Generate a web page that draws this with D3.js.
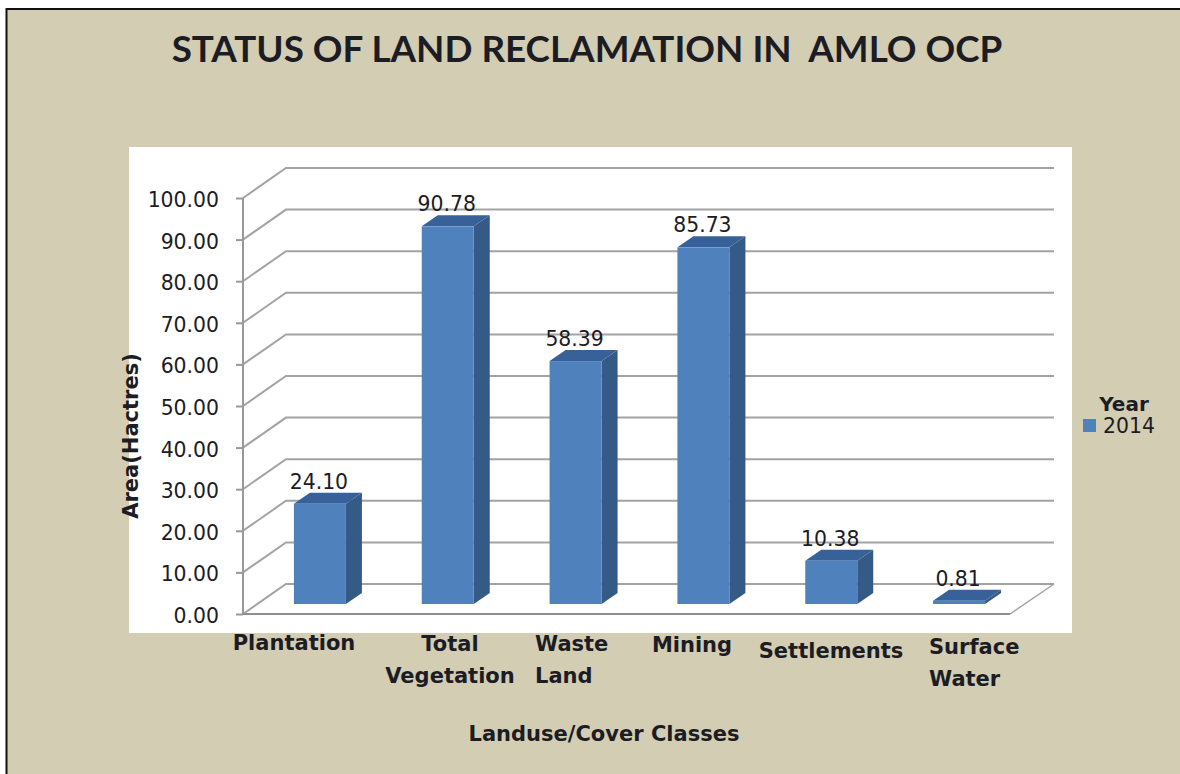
<!DOCTYPE html>
<html>
<head>
<meta charset="utf-8">
<script src="https://cdn.jsdelivr.net/npm/d3@7"></script>
<style>
html, body { margin: 0; padding: 0; background: #fff; }
svg { display: block; }
text { fill: #1c1c24; }
.t1 { font: bold 36.8px Lato, sans-serif; white-space: pre; }
.tick text, .val { font: 20.4px "DejaVu Sans", sans-serif; }
.cat, .axt { font: bold 21px "DejaVu Sans", sans-serif; }
.leg { font: bold 20px "DejaVu Sans", sans-serif; }
</style>
</head>
<body>
<svg id="chart" width="1180" height="774"></svg>
<script>
var categories = ["Plantation", "Total Vegetation", "Waste Land", "Mining", "Settlements", "Surface Water"];
var values = [24.10, 90.78, 58.39, 85.73, 10.38, 0.81];
var yTicks = [0, 10, 20, 30, 40, 50, 60, 70, 80, 90, 100];

// the category labels sit by hand in the original, they do not follow the bars
var catLines = [["Plantation"], ["Total", "Vegetation"], ["Waste", "Land"], ["Mining"], ["Settlements"], ["Surface", "Water"]];
var catX = [294, 450, 535, 692, 831, 929];
var catY = [650, 651, 651, 652, 658, 654];
var catAnchor = ["middle", "middle", "start", "middle", "middle", "start"];

var svg = d3.select("#chart");

svg.append("rect").attr("x", 6.5).attr("y", 9).attr("width", 1180).attr("height", 780)
    .attr("fill", "#d3cdb3").attr("stroke", "#111").attr("stroke-width", 2);
svg.append("rect").attr("x", 129).attr("y", 147).attr("width", 943).attr("height", 486).attr("fill", "white");

svg.append("text").attr("class", "t1").attr("x", 587).attr("y", 62).attr("text-anchor", "middle")
    .text("STATUS OF LAND RECLAMATION IN  AMLO OCP");

var x = d3.scaleBand().domain(categories).range([243, 1010]);
var y = d3.scaleLinear().domain([0, 100]).range([614, 198]);

// depth of the fake 3d box, and of one bar
var depthX = 43, depthY = -30;
var barW = 52, barDx = 16, barDy = -11, inX = 13, inY = -10;

var grid = svg.append("g").attr("fill", "none").attr("stroke", "#a3a3a3").attr("stroke-width", 2);
grid.selectAll("path.g").data(yTicks).enter().append("path").attr("class", "g")
    .attr("d", function (d) {
        return "M243," + y(d) + "L" + (243 + depthX) + "," + (y(d) + depthY) + "L1054," + (y(d) + depthY);
    });
grid.append("path").attr("d", "M1010," + y(0) + "L1054," + (y(0) + depthY)).attr("stroke-width", 1.5);

var yAxis = d3.axisLeft(y).tickValues(yTicks).tickFormat(d3.format(".2f")).tickSize(7).tickPadding(17);
var ag = svg.append("g").attr("transform", "translate(243,0)").call(yAxis);
ag.selectAll("line, path").attr("stroke", "#999").attr("stroke-width", 2);
ag.select(".domain").attr("d", "M0," + y(100) + "V" + y(0));
ag.selectAll(".tick text").attr("dy", "0.42em");
svg.append("line").attr("x1", 243).attr("x2", 1010).attr("y1", y(0)).attr("y2", y(0))
    .attr("stroke", "#8f8f8f").attr("stroke-width", 2);

var bars = svg.append("g").selectAll("g").data(categories).enter().append("g");
function left(d) { return x(d) + x.bandwidth() / 2 + inX - barW / 2; }
function val(i) { return y(values[i]) + inY; }
var base = y(0) + inY;

bars.append("path").attr("fill", "#355a86").attr("d", function (d, i) {
    var r = left(d) + barW;
    return "M" + r + "," + base + "l" + barDx + "," + barDy + "V" + (val(i) + barDy) + "l" + (-barDx) + "," + (-barDy) + "Z";
});
bars.append("path").attr("fill", "#38619a").attr("d", function (d, i) {
    var l = left(d);
    return "M" + l + "," + val(i) + "l" + barDx + "," + barDy + "h" + barW + "l" + (-barDx) + "," + (-barDy) + "Z";
});
bars.append("rect").attr("fill", "#4f81bd")
    .attr("x", left).attr("width", barW)
    .attr("y", function (d, i) { return val(i); })
    .attr("height", function (d, i) { return base - val(i); });

bars.append("text").attr("class", "val").attr("text-anchor", "middle")
    .attr("x", function (d) { return left(d) + barW / 2 - 1; })
    .attr("y", function (d, i) { return val(i) + barDy - 4; })
    .text(function (d, i) { return values[i].toFixed(2); });

var cats = svg.append("g").selectAll("text").data(catLines).enter().append("text")
    .attr("class", "cat")
    .attr("text-anchor", function (d, i) { return catAnchor[i]; })
    .attr("x", function (d, i) { return catX[i]; })
    .attr("y", function (d, i) { return catY[i]; });
cats.selectAll("tspan").data(function (d, i) { return d.map(function (t) { return { t: t, i: i }; }); })
    .enter().append("tspan")
    .attr("x", function (d) { return catX[d.i]; })
    .attr("dy", function (d, j) { return j ? 32 : 0; })
    .text(function (d) { return d.t; });

svg.append("text").attr("class", "axt").attr("x", 604).attr("y", 741).attr("text-anchor", "middle")
    .text("Landuse/Cover Classes");
svg.append("text").attr("class", "axt").attr("text-anchor", "middle")
    .attr("transform", "translate(138,436) rotate(-90)").text("Area(Hactres)");

svg.append("text").attr("class", "leg").attr("x", 1124).attr("y", 411).attr("text-anchor", "middle").text("Year");
svg.append("rect").attr("x", 1083).attr("y", 419).attr("width", 13).attr("height", 13).attr("fill", "#4f81bd");
svg.append("text").attr("class", "val").attr("x", 1103).attr("y", 433).text("2014");
</script>
</body>
</html>
